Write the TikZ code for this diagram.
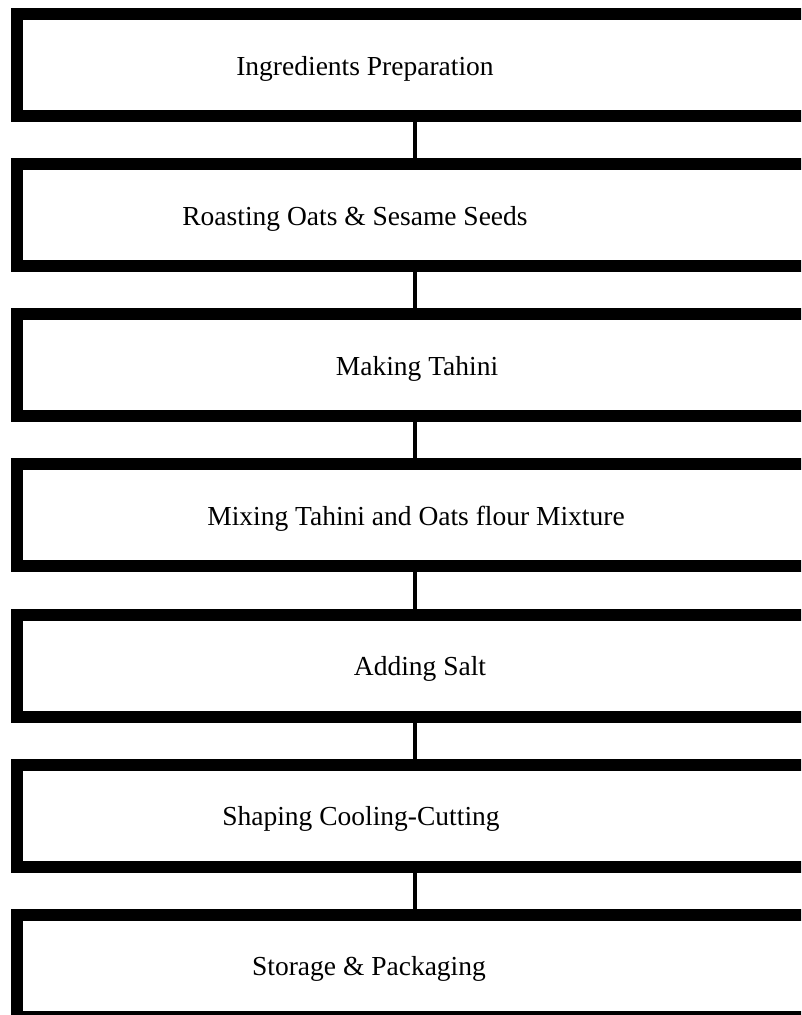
\documentclass[tikz,border=0pt]{standalone}
\usepackage{fontspec}
\setmainfont{Liberation Serif}
\begin{document}
\begin{tikzpicture}[x=1pt,y=-1pt,
  stepbox/.style={draw,line width=12pt,minimum width=795.4pt,minimum height=102pt,inner sep=0pt},
  steptext/.style={anchor=base,inner sep=0pt,font=\fontsize{27.5}{33}\selectfont},
  link/.style={line width=4pt}]
  % page
  \useasboundingbox (0,0) rectangle (801,1015);
  \clip (0,0) rectangle (801,1015);

  % Boxes
  \node[stepbox] (prep) at (414.7,65) {};
  \node[stepbox] (roast) at (414.7,215.15) {};
  \node[stepbox] (tahini) at (414.7,365.3) {};
  \node[stepbox] (mixing) at (414.7,515.45) {};
  \node[stepbox] (salt) at (414.7,665.6) {};
  \node[stepbox] (shaping) at (414.7,815.75) {};
  \node[stepbox] (storage) at (414.7,965.9) {};

  % Texts
  \node[steptext] (prep text) at (365,75) {Ingredients Preparation};
  \node[steptext] (roast text) at (355,225.15) {Roasting Oats \& Sesame Seeds};
  \node[steptext] (tahini text) at (417,375.3) {Making Tahini};
  \node[steptext] (mixing text) at (416,525.45) {Mixing Tahini and Oats flour Mixture};
  \node[steptext] (salt text) at (420,675.6) {Adding Salt};
  \node[steptext] (shaping text) at (361,825.75) {Shaping Cooling-Cutting};
  \node[steptext] (storage text) at (369,975.9) {Storage \& Packaging};

  % Connectors
  \draw[link] (prep.south) -- (roast.north);
  \draw[link] (roast.south) -- (tahini.north);
  \draw[link] (tahini.south) -- (mixing.north);
  \draw[link] (mixing.south) -- (salt.north);
  \draw[link] (salt.south) -- (shaping.north);
  \draw[link] (shaping.south) -- (storage.north);
\end{tikzpicture}
\end{document}
